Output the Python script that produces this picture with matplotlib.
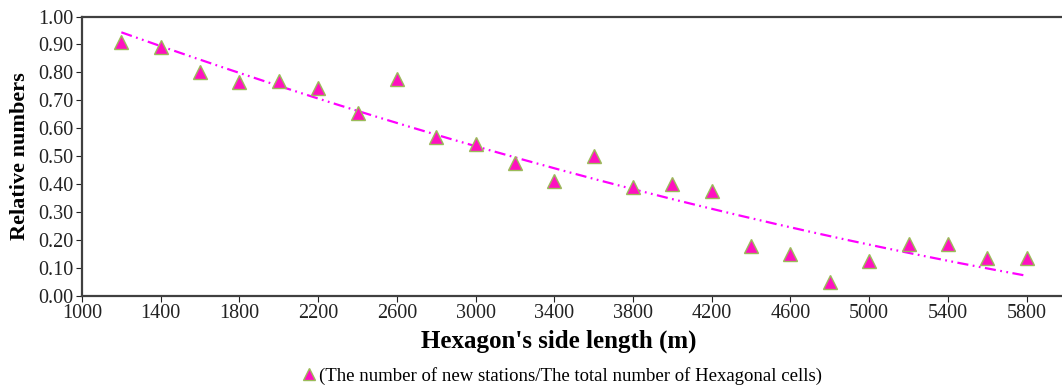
import numpy as np
import matplotlib
matplotlib.use('Agg')
import matplotlib.pyplot as plt

plt.rcParams['font.family'] = ['Liberation Serif', 'DejaVu Serif']

# side length of hexagon (m) and relative number of new stations
side_length = [1200, 1400, 1600, 1800, 2000, 2200, 2400, 2600, 2800, 3000,
               3200, 3400, 3600, 3800, 4000, 4200, 4400, 4600, 4800, 5000,
               5200, 5400, 5600, 5800]
relative = [0.91, 0.89, 0.80, 0.765, 0.77, 0.745, 0.655, 0.775, 0.57, 0.545,
            0.475, 0.41, 0.50, 0.39, 0.40, 0.375, 0.18, 0.15, 0.05, 0.125,
            0.185, 0.185, 0.135, 0.135]

x_ticks = [1000, 1400, 1800, 2200, 2600, 3000, 3400, 3800, 4200, 4600, 5000, 5400, 5800]
y_ticks = [0.0, 0.1, 0.2, 0.3, 0.4, 0.5, 0.6, 0.7, 0.8, 0.9, 1.0]

fig = plt.figure(figsize=(10.62, 3.90), dpi=100)
ax = fig.add_axes([82 / 1062, 1 - 296 / 390, (1062 - 82) / 1062, (296 - 16.5) / 390])

# quadratic trend line through the data
coef = np.polyfit(side_length, relative, 2)
xs = np.linspace(side_length[0], side_length[-1], 200)
ax.plot(xs, np.polyval(coef, xs), color='#FF00FF', linewidth=1.6,
        dashes=(5, 2, 0.8, 2, 0.8, 2), zorder=2)

ax.plot(side_length, relative, linestyle='none', marker='^', markersize=10.5,
        markerfacecolor='#FF10C0', markeredgecolor='#9BBB59', markeredgewidth=1.0,
        zorder=3, label='(The number of new stations/The total number of Hexagonal cells)')

ax.set_xlim(1000, 5980)
ax.set_ylim(0, 1.0)
ax.set_xticks(x_ticks)
ax.set_yticks(y_ticks)
ax.set_yticklabels([f'{v:.2f}' for v in y_ticks])
ax.tick_params(axis='both', labelsize=14.5, direction='out', length=4, width=0.8,
               colors='#222222', pad=2)
ax.tick_params(axis='x', pad=2)

for side in ('left', 'bottom', 'top'):
    ax.spines[side].set_color('#404040')
    ax.spines[side].set_linewidth(1.6)
ax.spines['right'].set_visible(False)

ax.set_xlabel("Hexagon's side length (m)", fontsize=18, fontweight='bold')
ax.xaxis.set_label_coords(0.486, -0.12)
ax.set_ylabel('Relative numbers', fontsize=16, fontweight='bold', labelpad=6)

fig.legend(loc='lower center', bbox_to_anchor=(0.528, -0.03), frameon=False,
           fontsize=13.5, handletextpad=0.0, handlelength=1.0, markerscale=0.8)

fig.savefig('out.png', dpi=100)
